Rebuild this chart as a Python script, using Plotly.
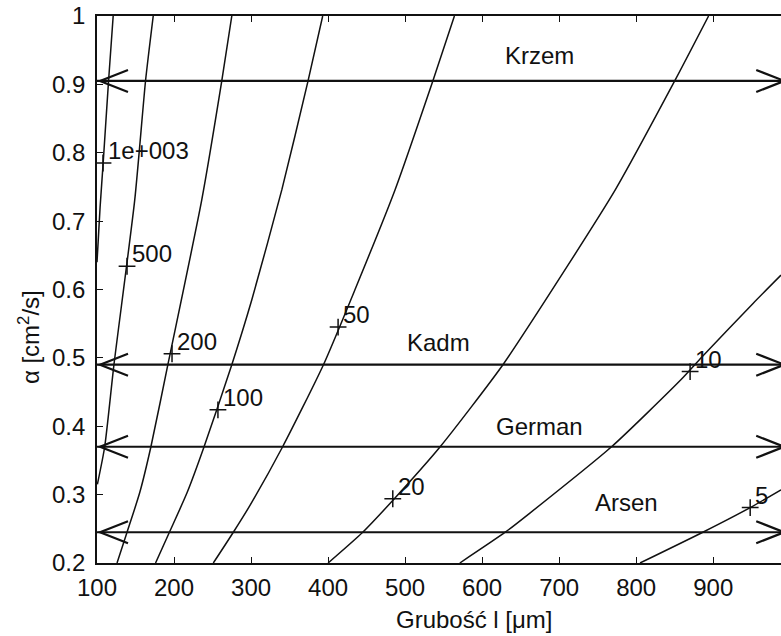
import plotly.graph_objects as go

# ---------------- data ----------------
# contour curves: thickness l [um] and alpha [cm^2/s]
c1000_l = [121, 115, 108, 104, 101.5, 100]
c1000_a = [1.0, 0.905, 0.785, 0.72, 0.67, 0.64]
c500_l = [173, 163, 149, 122, 110, 100.5]
c500_a = [1.0, 0.905, 0.731, 0.49, 0.37, 0.315]
c200_l = [275, 262, 236, 192, 170, 155.5, 139, 126]
c200_a = [1.0, 0.905, 0.731, 0.49, 0.37, 0.303, 0.245, 0.2]
c100_l = [393, 374, 340, 301, 275, 239, 217, 194, 176]
c100_a = [1.0, 0.905, 0.746, 0.585, 0.49, 0.37, 0.303, 0.245, 0.2]
c50_l = [564, 536, 487, 435, 394, 341, 299, 277, 251]
c50_a = [1.0, 0.905, 0.746, 0.6, 0.49, 0.37, 0.285, 0.245, 0.2]
c20_l = [894, 850, 773, 710, 627, 545.5, 486, 445, 400]
c20_a = [1.0, 0.905, 0.746, 0.633, 0.49, 0.37, 0.294, 0.245, 0.2]
c10_l = [988, 952, 885, 858, 768, 662, 630, 571]
c10_a = [0.621, 0.58, 0.501, 0.468, 0.37, 0.273, 0.245, 0.2]
c5_l = [988, 948, 886.5, 805]
c5_a = [0.307, 0.281, 0.245, 0.2]

# contour labels ("+" markers)
label_text = ["1e+003", "500", "200", "100", "50", "20", "10", "5"]
label_l = [107.8, 139, 197.4, 257, 413, 484, 870, 948]
label_a = [0.785, 0.634, 0.506, 0.424, 0.545, 0.294, 0.480, 0.281]

# material arrows
mat_names = ["Krzem", "Kadm", "German", "Arsen"]
mat_alpha = [0.905, 0.49, 0.37, 0.245]
mat_text_l = [674, 543.5, 675, 787]
mat_text_a = [0.942, 0.523, 0.40, 0.289]
arrow_l0, arrow_l1 = 100, 1000

x_ticks = [100, 200, 300, 400, 500, 600, 700, 800, 900]
y_ticks = [0.2, 0.3, 0.4, 0.5, 0.6, 0.7, 0.8, 0.9, 1.0]
y_tick_text = ["0.2", "0.3", "0.4", "0.5", "0.6", "0.7", "0.8", "0.9", "1"]

FONT = "Liberation Sans, Arial, sans-serif"
FS = 24
INK = "#111111"

fig = go.Figure()

curves = [(c1000_l, c1000_a), (c500_l, c500_a), (c200_l, c200_a), (c100_l, c100_a),
          (c50_l, c50_a), (c20_l, c20_a), (c10_l, c10_a), (c5_l, c5_a)]
for cl, ca in curves:
    fig.add_trace(go.Scatter(x=cl, y=ca, mode="lines",
                             line=dict(color=INK, width=1.5, shape="spline", smoothing=0.6),
                             hoverinfo="skip", showlegend=False))

fig.add_trace(go.Scatter(x=label_l, y=label_a, mode="markers",
                         marker=dict(symbol="cross-thin", size=12,
                                     line=dict(color=INK, width=1.5)),
                         hoverinfo="skip", showlegend=False))

annotations = []
for t, lx, ly in zip(label_text, label_l, label_a):
    annotations.append(dict(x=lx, y=ly, xref="x", yref="y", text=t, showarrow=False,
                            xanchor="left", yanchor="bottom", xshift=3, yshift=-3,
                            font=dict(family=FONT, size=FS, color=INK)))

shapes = []
for a in mat_alpha:
    shapes.append(dict(type="line", xref="x", yref="y", x0=arrow_l0, x1=arrow_l1,
                       y0=a, y1=a, line=dict(color=INK, width=2.2)))
    shapes.append(dict(type="path", xref="x", yref="y", xsizemode="pixel", ysizemode="pixel",
                       xanchor=arrow_l0, yanchor=a, path="M31,11 L3,0 L31,-11",
                       line=dict(color=INK, width=2.2)))
    shapes.append(dict(type="path", xref="x", yref="y", xsizemode="pixel", ysizemode="pixel",
                       xanchor=arrow_l1, yanchor=a, path="M-34,11 L-6,0 L-34,-11",
                       line=dict(color=INK, width=2.2)))

for n, lx, ly in zip(mat_names, mat_text_l, mat_text_a):
    annotations.append(dict(x=lx, y=ly, xref="x", yref="y", text=n, showarrow=False,
                            xanchor="center", yanchor="middle",
                            font=dict(family=FONT, size=FS, color=INK)))

# axis titles
annotations.append(dict(x=0.5526, y=-0.104, xref="paper", yref="paper",
                        text="Grubość l [μm]", showarrow=False,
                        xanchor="center", yanchor="middle",
                        font=dict(family=FONT, size=FS, color=INK)))
annotations.append(dict(x=-0.0994, y=0.413, xref="paper", yref="paper",
                        text="α [cm<sup>2</sup>/s]", showarrow=False, textangle=-90,
                        xanchor="center", yanchor="middle",
                        font=dict(family=FONT, size=FS, color=INK)))

fig.update_layout(
    width=781, height=636,
    margin=dict(l=97, r=0, t=16, b=73),
    paper_bgcolor="white", plot_bgcolor="white",
    font=dict(family=FONT, size=FS, color=INK),
    showlegend=False,
    shapes=shapes, annotations=annotations,
    xaxis=dict(range=[100, 988], tickvals=x_ticks, ticks="inside", ticklen=6,
               tickwidth=1.2, tickcolor=INK, showline=True, linecolor=INK, linewidth=1.6,
               mirror="ticks", showgrid=False, zeroline=False, ticklabelstandoff=2,
               tickfont=dict(family=FONT, size=FS, color=INK)),
    yaxis=dict(range=[0.2, 1.0], tickvals=y_ticks, ticktext=y_tick_text, ticks="inside",
               ticklen=6, tickwidth=1.2, tickcolor=INK, showline=True, linecolor=INK,
               linewidth=1.6, mirror=False, showgrid=False, zeroline=False,
               ticklabelstandoff=5, tickfont=dict(family=FONT, size=FS, color=INK)),
)

fig.write_html("out.html")
